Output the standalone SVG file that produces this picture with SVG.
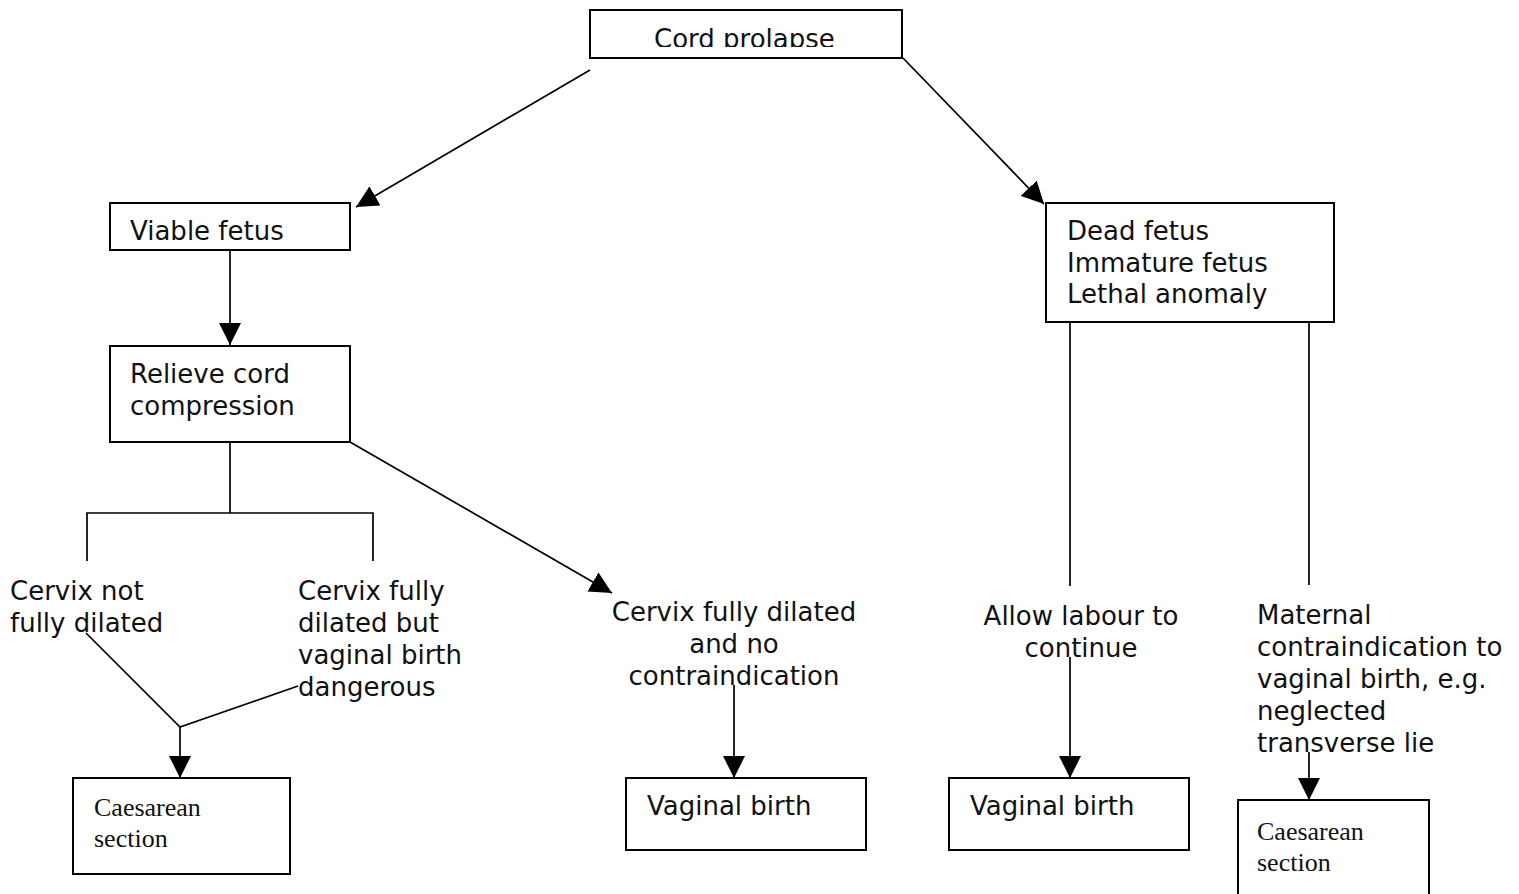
<svg xmlns="http://www.w3.org/2000/svg" width="1519" height="894" viewBox="0 0 1519 894">
<style>
.box{fill:#fff;stroke:#000;stroke-width:2}
.t{font-family:"DejaVu Sans","Liberation Sans",sans-serif;font-size:26px;fill:#111}
.s{font-family:"Liberation Serif","Times New Roman",serif;font-size:26px;fill:#111}
.c{text-anchor:middle}
.ln{stroke:#000;stroke-width:1.7;fill:none}
.ar{marker-end:url(#ah)}
</style>
<defs>
<marker id="ah" markerUnits="userSpaceOnUse" markerWidth="22" markerHeight="22" viewBox="0 0 20 20" refX="20" refY="10" orient="auto">
<path d="M0,0 L20,10 L0,20 Z" fill="#000"/>
</marker>
<clipPath id="clipTop"><rect x="590" y="10" width="312" height="37"/></clipPath>
</defs>
<rect width="1519" height="894" fill="#fff"/>
<g id="connectors">
<line class="ln ar" x1="590" y1="70" x2="356" y2="207"/>
<line class="ln ar" x1="903" y1="58" x2="1044" y2="204"/>
<line class="ln ar" x1="230" y1="250" x2="230" y2="345"/>
<polyline class="ln" points="230,442 230,513"/>
<polyline class="ln" points="87,561 87,513 373,513 373,561"/>
<line class="ln ar" x1="350" y1="442" x2="612" y2="593"/>
<polyline class="ln" points="86,633 180,727 298,686"/>
<line class="ln ar" x1="180" y1="727" x2="180" y2="778"/>
<line class="ln ar" x1="734" y1="685" x2="734" y2="778"/>
<line class="ln" x1="1070" y1="322" x2="1070" y2="586"/>
<line class="ln" x1="1309" y1="322" x2="1309" y2="585"/>
<line class="ln ar" x1="1070" y1="657" x2="1070" y2="778"/>
<line class="ln ar" x1="1309" y1="752" x2="1309" y2="800"/>
</g>
<g id="cord-prolapse">
<rect class="box" x="590" y="10" width="312" height="48"/>
<text class="t" x="654" y="48" clip-path="url(#clipTop)">Cord prolapse</text>
</g>
<g id="viable-fetus">
<rect class="box" x="110" y="203" width="240" height="47"/>
<text class="t" x="130" y="240">Viable fetus</text>
</g>
<g id="relieve">
<rect class="box" x="110" y="346" width="240" height="96"/>
<text class="t" x="130" y="383">Relieve cord</text>
<text class="t" x="130" y="415">compression</text>
</g>
<g id="dead-fetus">
<rect class="box" x="1046" y="203" width="288" height="119"/>
<text class="t" x="1067" y="240">Dead fetus</text>
<text class="t" x="1067" y="272">Immature fetus</text>
<text class="t" x="1067" y="303">Lethal anomaly</text>
</g>
<g id="cervix-not">
<text class="t" x="10" y="600">Cervix not</text>
<text class="t" x="10" y="632">fully dilated</text>
</g>
<g id="cervix-dangerous">
<text class="t" x="298" y="600">Cervix fully</text>
<text class="t" x="298" y="632">dilated but</text>
<text class="t" x="298" y="664">vaginal birth</text>
<text class="t" x="298" y="696">dangerous</text>
</g>
<g id="cervix-ok">
<text class="t c" x="734" y="621">Cervix fully dilated</text>
<text class="t c" x="734" y="653">and no</text>
<text class="t c" x="734" y="685">contraindication</text>
</g>
<g id="allow-labour">
<text class="t c" x="1081" y="625">Allow labour to</text>
<text class="t c" x="1081" y="657">continue</text>
</g>
<g id="maternal">
<text class="t" x="1257" y="624">Maternal</text>
<text class="t" x="1257" y="656">contraindication to</text>
<text class="t" x="1257" y="688">vaginal birth, e.g.</text>
<text class="t" x="1257" y="720">neglected</text>
<text class="t" x="1257" y="752">transverse lie</text>
</g>
<g id="caesarean-1">
<rect class="box" x="73" y="778" width="217" height="96"/>
<text class="s" x="94" y="816">Caesarean</text>
<text class="s" x="94" y="847">section</text>
</g>
<g id="vaginal-1">
<rect class="box" x="626" y="778" width="240" height="72"/>
<text class="t" x="647" y="815">Vaginal birth</text>
</g>
<g id="vaginal-2">
<rect class="box" x="949" y="778" width="240" height="72"/>
<text class="t" x="970" y="815">Vaginal birth</text>
</g>
<g id="caesarean-2">
<rect class="box" x="1238" y="800" width="191" height="100"/>
<text class="s" x="1257" y="840">Caesarean</text>
<text class="s" x="1257" y="871">section</text>
</g>
</svg>
